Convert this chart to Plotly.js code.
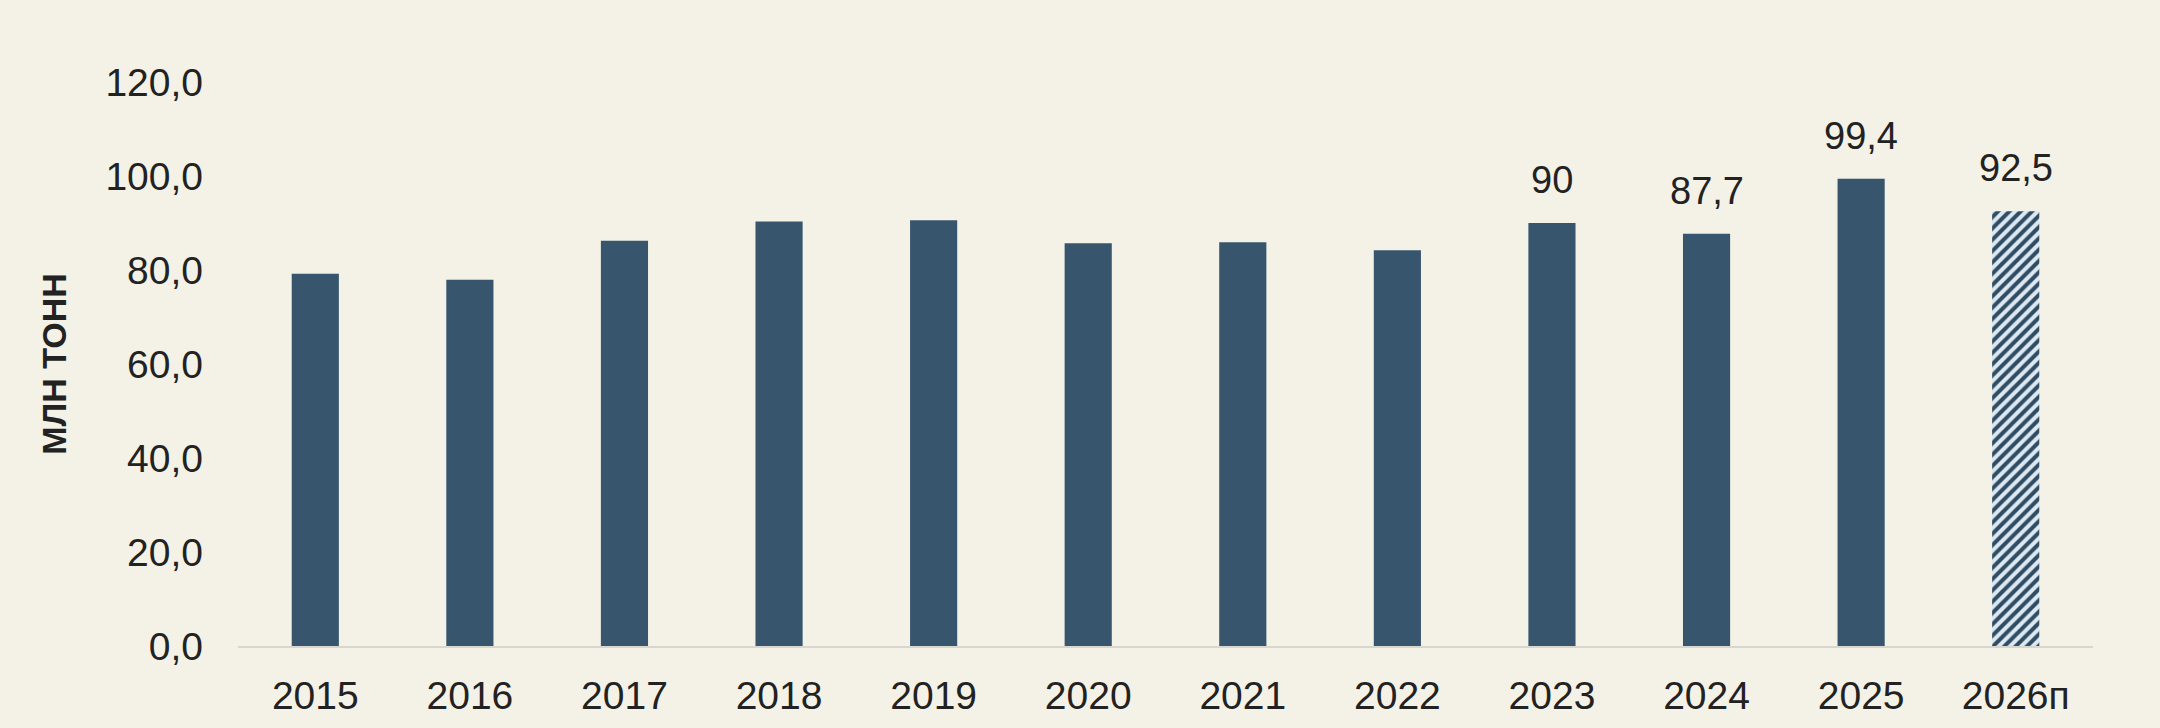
<!DOCTYPE html>
<html>
<head>
<meta charset="utf-8">
<script src="https://cdn.plot.ly/plotly-3.0.1.min.js"></script>
<style>
html,body{margin:0;padding:0;background:#f4f1e6;}
#chart{width:2160px;height:728px;}
</style>
</head>
<body>
<div id="chart"></div>
<script>
const years = ['2015','2016','2017','2018','2019','2020','2021','2022','2023','2024','2025','2026п'];
const actualValues = [79.2, 77.9, 86.2, 90.3, 90.6, 85.7, 85.9, 84.2, 90, 87.7, 99.4, null];
const forecastValues = [null, null, null, null, null, null, null, null, null, null, null, 92.5];
const allValues = [79.2, 77.9, 86.2, 90.3, 90.6, 85.7, 85.9, 84.2, 90, 87.7, 99.4, 92.5];
const valueLabels = ['', '', '', '', '', '', '', '', '90', '87,7', '99,4', '92,5'];
const yTitle = 'МЛН ТОНН';

const barColor = '#37566e';
const font = 'Liberation Sans, Arial, sans-serif';

const traces = [
  {
    type: 'bar', x: years, y: actualValues,
    marker: {color: barColor, line: {width: 0}},
    hoverinfo: 'x+y'
  },
  {
    type: 'bar', x: years, y: forecastValues,
    marker: {
      color: '#dce8f2',
      line: {width: 0},
      pattern: {shape: '/', fgcolor: '#2f4c63', bgcolor: '#dce8f2', size: 8, solidity: 0.5}
    },
    hoverinfo: 'x+y'
  }
];

const annotations = [];
years.forEach((yr, i) => {
  if (valueLabels[i]) {
    annotations.push({
      x: i, y: allValues[i], xref: 'x', yref: 'y',
      text: valueLabels[i], showarrow: false,
      yanchor: 'bottom', yshift: 20,
      font: {family: font, size: 38, color: '#222222'}
    });
  }
});

const layout = {
  width: 2160, height: 728,
  paper_bgcolor: '#f4f1e6', plot_bgcolor: '#f4f1e6',
  margin: {l: 238, r: 67, t: 82, b: 82},
  showlegend: false,
  barmode: 'overlay',
  bargap: 0.695,
  separators: ', ',
  font: {family: font, color: '#222222'},
  xaxis: {
    type: 'category',
    categoryorder: 'array', categoryarray: years,
    range: [-0.5, years.length - 0.5],
    showline: true, linecolor: '#d8d6cf', linewidth: 2,
    showgrid: false, zeroline: false, ticks: '',
    ticklabelstandoff: 14,
    tickfont: {family: font, size: 39, color: '#222222'}
  },
  yaxis: {
    range: [0, 120], dtick: 20, tick0: 0,
    tickformat: '.1f',
    showline: false, showgrid: false, zeroline: false, ticks: '',
    ticklabelstandoff: 34,
    tickfont: {family: font, size: 39, color: '#222222'},
    title: {text: yTitle, standoff: 28, font: {family: font, size: 34, color: '#222222', weight: 'bold'}}
  },
  annotations: annotations
};

Plotly.newPlot('chart', traces, layout, {displayModeBar: false, staticPlot: true});
</script>
</body>
</html>
